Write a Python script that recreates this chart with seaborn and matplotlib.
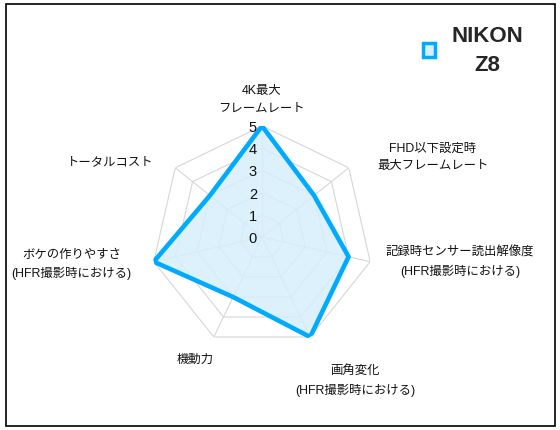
import numpy as np
import pandas as pd
import matplotlib
matplotlib.use("Agg")
import matplotlib.pyplot as plt
import seaborn as sns
from matplotlib.patches import Patch

labels = [
    "4K最大\nフレームレート",
    "FHD以下設定時\n最大フレームレート",
    "記録時センサー読出解像度\n(HFR撮影時における)",
    "画角変化\n(HFR撮影時における)",
    "機動力",
    "ボケの作りやすさ\n(HFR撮影時における)",
    "トータルコスト",
]
scores = [5, 3, 4, 5, 3, 5, 3]
series_name = "NIKON\nZ8"
ticks = [0, 1, 2, 3, 4, 5]
# label offsets from the axis tip, in pixels
label_offsets = [(0, 27), (84, 11), (90, 0), (45, -43), (-19, -22), (-82, -2), (-65, 7)]

line_color = "#00aaff"
fill_color = "#d6effc"
grid_color = "#d6d6d6"

sns.set_style("white")
plt.rcParams["font.family"] = ["Liberation Sans", "Noto Sans CJK JP", "DejaVu Sans"]

n = len(labels)
angles = np.linspace(0, 2 * np.pi, n, endpoint=False)

df = pd.DataFrame({"angle": np.append(angles, 2 * np.pi),
                   "score": scores + [scores[0]]})

fig = plt.figure(figsize=(5.6, 4.31), dpi=100)
ax = fig.add_axes([151 / 560, 82 / 431, 222 / 560, 222 / 431], projection="polar")
ax.set_theta_zero_location("N")
ax.set_theta_direction(-1)
ax.set_ylim(0, max(ticks))
ax.grid(False)
ax.spines["polar"].set_visible(False)
ax.patch.set_alpha(0)

# heptagon rings and spokes
ring_angles = np.append(angles, angles[0])
for t in ticks[1:]:
    ax.plot(ring_angles, [t] * (n + 1), color=grid_color, lw=0.8, zorder=1)
for a in angles:
    ax.plot([a, a], [0, max(ticks)], color=grid_color, lw=0.8, zorder=1)

ax.fill(df["angle"], df["score"], color=fill_color, alpha=0.85, zorder=2)
sns.lineplot(data=df, x="angle", y="score", sort=False, estimator=None, ax=ax,
             color=line_color, lw=3.3, zorder=3, legend=False)
ax.set_xlabel("")
ax.set_ylabel("")
ax.set_xticks([])
ax.set_yticks([])
ax.set_ylim(0, max(ticks))

for t in ticks:
    ax.annotate(str(t), xy=(0, t), xytext=(-5, -1), textcoords="offset pixels",
                ha="right", va="center", fontsize=10.5, color="#111111", zorder=4)

for a, lab, off in zip(angles, labels, label_offsets):
    ax.annotate(lab, xy=(a, max(ticks)), xytext=off, textcoords="offset pixels",
                ha="center", va="center", fontsize=8.9, color="#111111",
                multialignment="center", linespacing=1.6)

handle = Patch(facecolor=fill_color, edgecolor=line_color, linewidth=2.5)
leg = fig.legend([handle], [series_name], loc="center", bbox_to_anchor=(473 / 560, 1 - 51 / 431),
                 frameon=False, handlelength=0.55, handleheight=0.55, handletextpad=0.7,
                 prop={"weight": "bold", "size": 16})
for txt in leg.get_texts():
    txt.set_multialignment("center")
    txt.set_linespacing(1.45)

# outer frame
fig.add_artist(plt.Rectangle((6 / 560, 1 - 427 / 431), 549 / 560, 422 / 431,
                             transform=fig.transFigure, fill=False,
                             edgecolor="black", lw=1.2))

fig.savefig("out.png", dpi=100)
